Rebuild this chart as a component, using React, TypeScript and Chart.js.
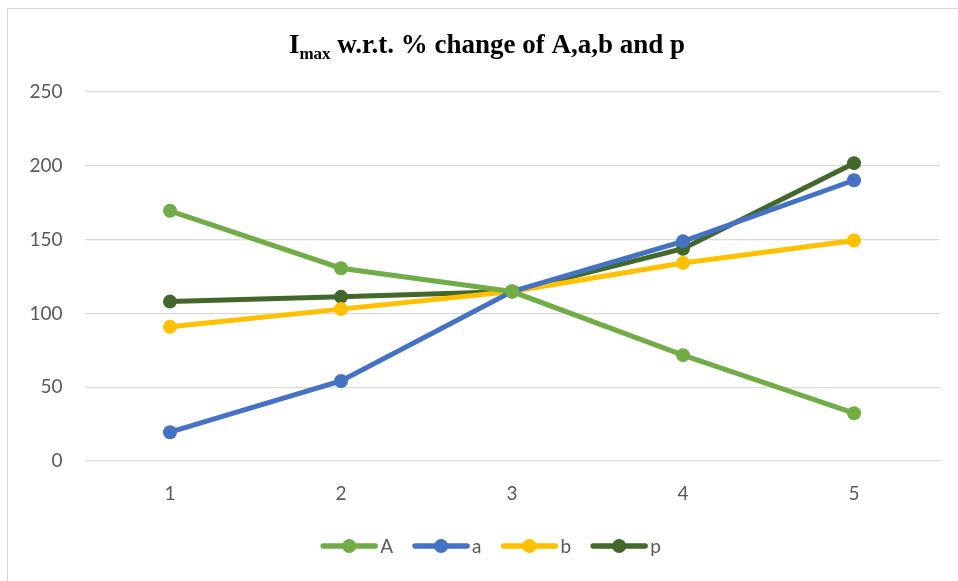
import React, { useEffect, useRef } from "react";
import { Chart, registerables } from "chart.js";

Chart.register(...registerables);

// Category labels on the x axis
const categories = ["1", "2", "3", "4", "5"];

// I_max values for each parameter
const seriesA = [169.5, 130.6, 114.8, 71.7, 32.4];
const seriesLowerA = [19.5, 54.2, 114.8, 148.8, 190.2];
const seriesB = [90.9, 102.9, 114.8, 134.2, 149.4];
const seriesP = [108.0, 111.2, 114.8, 143.8, 201.8];

const seriesNames = ["A", "a", "b", "p"];
const seriesColors = ["#70ad47", "#4472c4", "#ffc000", "#43682b"];

const yMin = 0;
const yMax = 250;
const yStep = 50;

const titleMain = "I";
const titleSub = "max";
const titleRest = " w.r.t. % change of A,a,b and p";

const TEXT_GRAY = "#595959";
const TICK_FONT = "Lato, 'Open Sans', sans-serif";
const TITLE_FONT = "'Liberation Serif', 'DejaVu Serif', serif";

const titlePlugin = {
  id: "subscriptTitle",
  afterDraw(chart: any) {
    const ctx = chart.ctx as CanvasRenderingContext2D;
    ctx.save();
    ctx.fillStyle = "#000000";
    ctx.textBaseline = "alphabetic";
    ctx.textAlign = "left";
    const big = `bold 27px ${TITLE_FONT}`;
    const small = `bold 17px ${TITLE_FONT}`;
    ctx.font = big;
    const w1 = ctx.measureText(titleMain).width;
    const w3 = ctx.measureText(titleRest).width;
    ctx.font = small;
    const w2 = ctx.measureText(titleSub).width;
    const total = w1 + w2 + w3;
    const cx = 479;
    const baseline = 44;
    let x = cx - total / 2;
    ctx.font = big;
    ctx.fillText(titleMain, x, baseline);
    x += w1;
    ctx.font = small;
    ctx.fillText(titleSub, x, baseline + 6);
    x += w2;
    ctx.font = big;
    ctx.fillText(titleRest, x, baseline);
    ctx.restore();
  },
};

const legendPlugin = {
  id: "lineMarkerLegend",
  afterDraw(chart: any) {
    const ctx = chart.ctx as CanvasRenderingContext2D;
    const lineLen = 56;
    const textGap = 3;
    const itemGap = 20;
    const y = 537;
    ctx.save();
    ctx.font = `19px ${TICK_FONT}`;
    const widths = seriesNames.map(
      (n) => lineLen + textGap + ctx.measureText(n).width
    );
    const total = widths.reduce((s, w) => s + w, 0) + itemGap * (widths.length - 1);
    let x = 483 - total / 2;
    seriesNames.forEach((name, i) => {
      const color = seriesColors[i];
      ctx.strokeStyle = color;
      ctx.lineWidth = 5.5;
      ctx.lineCap = "round";
      ctx.beginPath();
      ctx.moveTo(x + 2, y);
      ctx.lineTo(x + lineLen - 2, y);
      ctx.stroke();
      ctx.fillStyle = color;
      ctx.beginPath();
      ctx.arc(x + lineLen / 2, y, 7, 0, Math.PI * 2);
      ctx.fill();
      ctx.fillStyle = TEXT_GRAY;
      ctx.textAlign = "left";
      ctx.textBaseline = "middle";
      ctx.fillText(name, x + lineLen + textGap, y + 1);
      x += widths[i] + itemGap;
    });
    ctx.restore();
  },
};

export default function App() {
  const canvasRef = useRef<HTMLCanvasElement | null>(null);

  useEffect(() => {
    const canvas = canvasRef.current;
    if (!canvas) return;
    const values = [seriesA, seriesLowerA, seriesB, seriesP];
    const chart = new Chart(canvas, {
      type: "line",
      data: {
        labels: categories,
        datasets: values.map((data, i) => ({
          label: seriesNames[i],
          data,
          borderColor: seriesColors[i],
          backgroundColor: seriesColors[i],
          pointBackgroundColor: seriesColors[i],
          pointBorderColor: seriesColors[i],
          borderWidth: 5,
          pointRadius: 7,
          pointBorderWidth: 0,
          tension: 0,
          fill: false,
        })),
      },
      options: {
        animation: false,
        responsive: false,
        maintainAspectRatio: false,
        layout: { padding: { left: 0, right: 18.5, top: 83, bottom: 0 } },
        plugins: {
          legend: { display: false },
          title: { display: false },
          tooltip: { enabled: false },
        },
        scales: {
          x: {
            type: "category",
            offset: true,
            grid: { display: false, drawTicks: false },
            border: { display: false },
            ticks: {
              color: TEXT_GRAY,
              font: { family: TICK_FONT, size: 19 },
              padding: 21,
              maxRotation: 0,
            },
            afterFit(scale: any) {
              scale.height = 120;
            },
          },
          y: {
            min: yMin,
            max: yMax,
            grid: { color: "#d9d9d9", lineWidth: 1.3, drawTicks: false },
            border: { display: false },
            ticks: {
              stepSize: yStep,
              color: TEXT_GRAY,
              font: { family: TICK_FONT, size: 19 },
              padding: 22,
            },
            afterFit(scale: any) {
              scale.width = 76.5;
            },
          },
        },
      },
      plugins: [titlePlugin, legendPlugin],
    });
    return () => chart.destroy();
  }, []);

  return (
    <div
      style={{
        position: "absolute",
        left: 7,
        top: 8,
        width: 951,
        height: 573,
        boxSizing: "border-box",
        borderLeft: "1px solid #d9d9d9",
        borderTop: "1px solid #d9d9d9",
        background: "#ffffff",
      }}
    >
      <canvas
        ref={canvasRef}
        width={950}
        height={572}
        style={{ display: "block", width: 950, height: 572 }}
      />
    </div>
  );
}
